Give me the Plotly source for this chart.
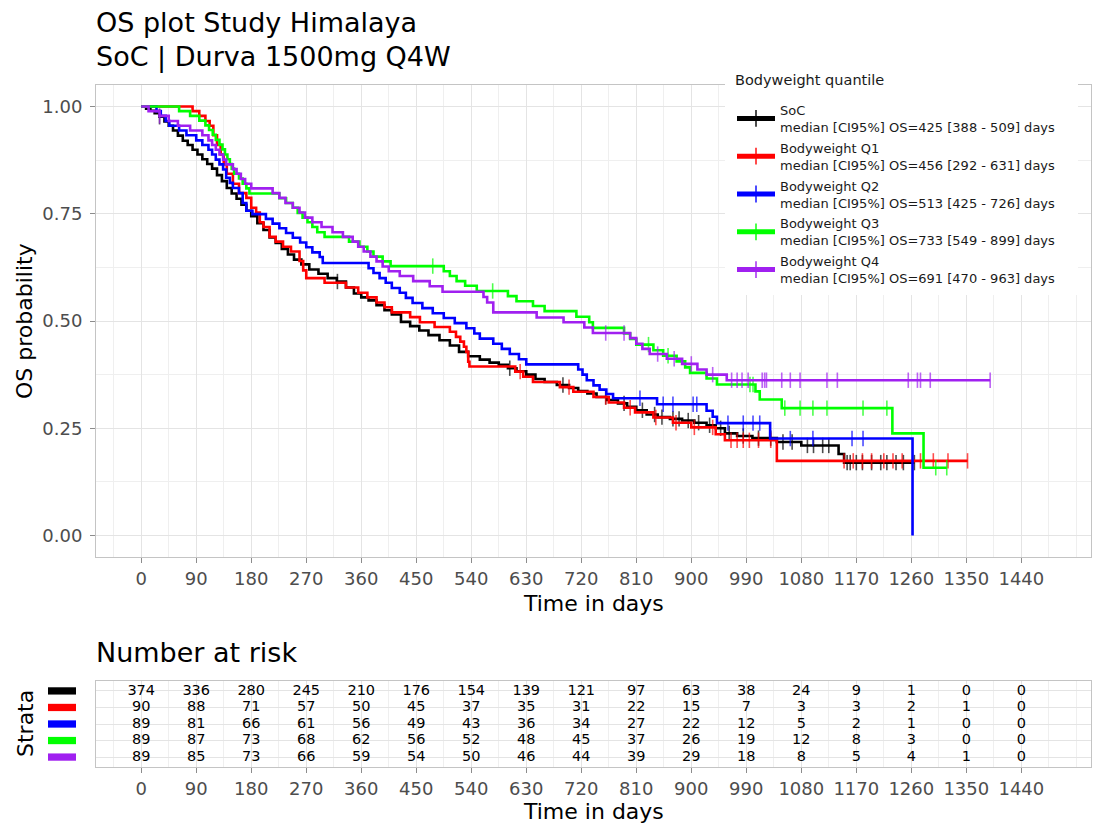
import numpy as np
import plotly.graph_objects as go

W, H = 1096, 829
FONT = "DejaVu Sans"

# ---------------- data ----------------
STRATA = ["SoC", "Bodyweight Q1", "Bodyweight Q2", "Bodyweight Q3", "Bodyweight Q4"]
MEDIAN_OS = ["425 [388 - 509]", "456 [292 - 631]", "513 [425 - 726]",
             "733 [549 - 899]", "691 [470 - 963]"]
COLORS = ["#000000", "#FF0000", "#0000FF", "#00FF00", "#A020F0"]
LEGEND_TITLE = "Bodyweight quantile"

TIME_TICKS = [0, 90, 180, 270, 360, 450, 540, 630, 720, 810, 900, 990,
              1080, 1170, 1260, 1350, 1440]
PROB_TICKS = [0.0, 0.25, 0.5, 0.75, 1.0]
PROB_LABELS = ["0.00", "0.25", "0.50", "0.75", "1.00"]

# Kaplan-Meier steps: event times (days) and survival just after each event
soc_time = [0, 8, 15, 22, 30, 38, 45, 52, 60, 68, 76, 84, 92, 100, 108, 116, 124,
            132, 140, 148, 156, 164, 172, 180, 190, 200, 210, 220, 230, 240, 250,
            262, 275, 290, 305, 320, 335, 348, 360, 372, 385, 398, 410, 425, 440,
            455, 470, 488, 505, 520, 535, 554, 570, 585, 600, 614, 630, 645, 660,
            680, 700, 715, 730, 745, 762, 780, 795, 810, 827, 845, 865, 885, 905,
            925, 940, 955, 975, 1000, 1040, 1080, 1141, 1150]
soc_surv = [1.0, 0.995, 0.99, 0.984, 0.976, 0.965, 0.955, 0.944, 0.932, 0.92, 0.91,
            0.899, 0.888, 0.877, 0.866, 0.855, 0.84, 0.826, 0.81, 0.797, 0.785,
            0.771, 0.757, 0.744, 0.728, 0.712, 0.695, 0.682, 0.668, 0.655, 0.643,
            0.632, 0.62, 0.61, 0.6, 0.592, 0.578, 0.564, 0.555, 0.548, 0.537,
            0.525, 0.515, 0.498, 0.488, 0.478, 0.467, 0.455, 0.443, 0.428, 0.418,
            0.41, 0.403, 0.398, 0.39, 0.383, 0.375, 0.365, 0.358, 0.351, 0.344,
            0.337, 0.331, 0.323, 0.316, 0.308, 0.3, 0.292, 0.282, 0.276, 0.272,
            0.268, 0.263, 0.257, 0.25, 0.238, 0.232, 0.227, 0.218, 0.21, 0.19, 0.17]
soc_censor = [30, 321, 603, 690, 760, 790, 820, 840, 852, 870, 880, 895, 912, 930,
              948, 962, 985, 1010, 1030, 1050, 1065, 1090, 1100, 1115, 1125, 1155,
              1160, 1170, 1180, 1195, 1210, 1220, 1235, 1247, 1265]

q1_time = [0, 84, 95, 105, 112, 118, 124, 130, 135, 140, 150, 160, 172, 180, 188,
           194, 200, 210, 220, 232, 245, 259, 265, 270, 300, 335, 355, 370, 385,
           398, 410, 440, 456, 480, 505, 515, 522, 528, 532, 535, 537, 612, 625,
           641, 685, 707, 740, 765, 790, 808, 838, 870, 900, 940, 955, 1040]
q1_surv = [1.0, 0.989, 0.978, 0.966, 0.955, 0.933, 0.91, 0.888, 0.865, 0.843, 0.82,
           0.798, 0.787, 0.764, 0.753, 0.73, 0.719, 0.696, 0.685, 0.673, 0.662,
           0.64, 0.618, 0.6, 0.589, 0.578, 0.566, 0.555, 0.543, 0.532, 0.52, 0.509,
           0.497, 0.486, 0.475, 0.463, 0.452, 0.44, 0.428, 0.405, 0.394, 0.382,
           0.37, 0.358, 0.346, 0.335, 0.323, 0.31, 0.298, 0.287, 0.275, 0.263,
           0.252, 0.236, 0.222, 0.174]
q1_censor = [620, 700, 760, 800, 842, 875, 905, 935, 965, 975, 985, 995, 1010, 1030,
             1150, 1165, 1180, 1195, 1215, 1230, 1245, 1275, 1296, 1320, 1352]

q2_time = [0, 25, 32, 40, 46, 62, 74, 90, 100, 110, 116, 122, 128, 134, 139, 145,
           150, 160, 166, 172, 182, 204, 215, 226, 237, 248, 260, 270, 280, 292,
           297, 372, 380, 390, 400, 410, 423, 433, 444, 460, 477, 495, 513, 532,
           545, 554, 576, 590, 603, 618, 630, 715, 722, 729, 740, 750, 761, 772,
           844, 925, 935, 942, 1029, 1262]
q2_surv = [1.0, 0.989, 0.978, 0.966, 0.955, 0.944, 0.933, 0.921, 0.91, 0.899, 0.888,
           0.876, 0.865, 0.853, 0.834, 0.822, 0.81, 0.798, 0.775, 0.757, 0.749,
           0.738, 0.727, 0.716, 0.705, 0.694, 0.683, 0.672, 0.66, 0.649, 0.635,
           0.623, 0.612, 0.6, 0.589, 0.577, 0.566, 0.554, 0.542, 0.53, 0.518,
           0.507, 0.495, 0.483, 0.471, 0.459, 0.447, 0.435, 0.423, 0.411, 0.399,
           0.387, 0.375, 0.362, 0.35, 0.34, 0.33, 0.32, 0.306, 0.291, 0.277,
           0.262, 0.226, 0.0]
q2_censor = [816, 854, 870, 903, 909, 960, 985, 1001, 1012, 1062, 1099, 1163, 1181]

q3_time = [0, 62, 80, 95, 105, 111, 117, 122, 128, 133, 137, 141, 145, 148, 152,
           160, 166, 172, 177, 226, 237, 248, 256, 264, 272, 280, 288, 300, 340,
           357, 370, 380, 395, 408, 495, 505, 516, 530, 549, 600, 614, 641, 660,
           712, 733, 739, 790, 800, 810, 838, 854, 876, 890, 898, 925, 942, 1005,
           1012, 1048, 1229, 1280]
q3_surv = [1.0, 0.989, 0.978, 0.967, 0.956, 0.945, 0.934, 0.922, 0.911, 0.9, 0.888,
           0.877, 0.866, 0.855, 0.843, 0.832, 0.82, 0.809, 0.797, 0.786, 0.775,
           0.764, 0.752, 0.741, 0.73, 0.719, 0.707, 0.696, 0.685, 0.673, 0.662,
           0.65, 0.639, 0.628, 0.616, 0.605, 0.593, 0.582, 0.57, 0.558, 0.546,
           0.535, 0.523, 0.51, 0.497, 0.484, 0.471, 0.458, 0.445, 0.432, 0.419,
           0.406, 0.392, 0.379, 0.366, 0.352, 0.336, 0.317, 0.297, 0.238, 0.158]
q3_censor = [477, 575, 830, 862, 996, 1001, 1053, 1078, 1099, 1122, 1181, 1220,
             1300, 1318]

q4_time = [0, 12, 30, 45, 60, 80, 100, 110, 116, 122, 128, 134, 139, 150, 156,
           163, 170, 180, 215, 226, 236, 248, 259, 268, 280, 295, 313, 330, 346,
           355, 364, 375, 385, 395, 405, 423, 445, 472, 493, 560, 566, 576, 647,
           691, 725, 739, 800, 810, 820, 832, 860, 885, 910, 925, 958]
q4_surv = [1.0, 0.989, 0.978, 0.966, 0.955, 0.944, 0.933, 0.921, 0.91, 0.899, 0.888,
           0.876, 0.865, 0.854, 0.843, 0.831, 0.82, 0.809, 0.798, 0.787, 0.775,
           0.764, 0.753, 0.741, 0.73, 0.719, 0.707, 0.696, 0.685, 0.673, 0.662,
           0.65, 0.639, 0.627, 0.616, 0.605, 0.593, 0.581, 0.568, 0.556, 0.543,
           0.52, 0.508, 0.497, 0.485, 0.472, 0.46, 0.447, 0.435, 0.423, 0.412,
           0.4, 0.387, 0.375, 0.362]
q4_censor = [30, 760, 790, 845, 872, 900, 935, 966, 975, 983, 993, 1016, 1020,
             1023, 1048, 1062, 1078, 1122, 1139, 1255, 1270, 1275, 1291, 1389]

# Number at risk at each time tick
risk_soc = [374, 336, 280, 245, 210, 176, 154, 139, 121, 97, 63, 38, 24, 9, 1, 0, 0]
risk_q1 = [90, 88, 71, 57, 50, 45, 37, 35, 31, 22, 15, 7, 3, 3, 2, 1, 0]
risk_q2 = [89, 81, 66, 61, 56, 49, 43, 36, 34, 27, 22, 12, 5, 2, 1, 0, 0]
risk_q3 = [89, 87, 73, 68, 62, 56, 52, 48, 45, 37, 26, 19, 12, 8, 3, 0, 0]
risk_q4 = [89, 85, 73, 66, 59, 54, 50, 46, 44, 39, 29, 18, 8, 5, 4, 1, 0]

CURVES = [(soc_time, soc_surv, soc_censor), (q1_time, q1_surv, q1_censor),
          (q2_time, q2_surv, q2_censor), (q3_time, q3_surv, q3_censor),
          (q4_time, q4_surv, q4_censor)]
RISK = [risk_soc, risk_q1, risk_q2, risk_q3, risk_q4]

# ---------------- layout helpers ----------------
def fx(p):
    return p / W


def fy(p):
    return 1 - p / H


X_DOMAIN = [fx(96), fx(1091)]
MAIN_Y_DOMAIN = [fy(557), fy(85)]
TABLE_Y_DOMAIN = [fy(767), fy(681)]
X_RANGE = [-74, 1554]

fig = go.Figure()

for name, med, color, (t, s, c) in zip(STRATA, MEDIAN_OS, COLORS, CURVES):
    t = np.asarray(t, float)
    s = np.asarray(s, float)
    c = np.asarray(c, float)
    # survival level at each censoring time (last step at or before it)
    c_s = s[np.searchsorted(t, c, side="right") - 1]
    xs = np.concatenate([t, c])
    ys = np.concatenate([s, c_s])
    sizes = np.concatenate([np.zeros(len(t)), np.full(len(c), 11.0)])
    order = np.argsort(xs, kind="stable")
    fig.add_trace(go.Scatter(
        x=xs[order], y=ys[order],
        mode="lines+markers",
        line=dict(color=color, width=2.6, shape="hv"),
        marker=dict(symbol="line-ns-open", size=sizes[order], color=color,
                    line=dict(color=color, width=1.6)),
        name=f"{name}<br>median [CI95%] OS={med} days",
        legendgroup=name,
        hoverinfo="skip",
        xaxis="x", yaxis="y",
    ))

# Risk table numbers
for i, counts in enumerate(RISK):
    fig.add_trace(go.Scatter(
        x=TIME_TICKS, y=[i + 1] * len(TIME_TICKS),
        mode="text", text=[str(v) for v in counts],
        textfont=dict(family=FONT, size=14.5, color="#000000"),
        showlegend=False, hoverinfo="skip", cliponaxis=False,
        xaxis="x2", yaxis="y2",
    ))

minor_x = [v - 45 for v in TIME_TICKS] + [TIME_TICKS[-1] + 45, TIME_TICKS[-1] + 90]
minor_y = [v + 0.125 for v in PROB_TICKS[:-1]]

axis_style = dict(
    showline=True, linecolor="#C4C4C4", linewidth=1, mirror=True,
    showgrid=True, gridcolor="#E4E4E4", gridwidth=1, zeroline=False,
    ticks="outside", ticklen=5, tickcolor="#8C8C8C", tickwidth=1.2,
    tickfont=dict(family=FONT, size=18, color="#4D4D4D"),
)

fig.update_layout(
    width=W, height=H,
    margin=dict(l=0, r=0, t=0, b=0),
    paper_bgcolor="white", plot_bgcolor="white",
    font=dict(family=FONT, color="#000000"),
    showlegend=True,
    xaxis=dict(domain=X_DOMAIN, range=X_RANGE, tickvals=TIME_TICKS,
               ticktext=[str(v) for v in TIME_TICKS], anchor="y",
               minor=dict(tickvals=minor_x, showgrid=True, gridcolor="#EFEFEF",
                          ticks=""),
               **axis_style),
    yaxis=dict(domain=MAIN_Y_DOMAIN, range=[-0.05, 1.05], tickvals=PROB_TICKS,
               ticktext=PROB_LABELS, anchor="x", ticklabelstandoff=4,
               minor=dict(tickvals=minor_y, showgrid=True, gridcolor="#EFEFEF",
                          ticks=""),
               **axis_style),
    xaxis2=dict(domain=X_DOMAIN, range=X_RANGE, tickvals=TIME_TICKS,
                ticktext=[str(v) for v in TIME_TICKS], anchor="y2",
                minor=dict(tickvals=minor_x, showgrid=True, gridcolor="#EFEFEF",
                           ticks=""),
                **axis_style),
    yaxis2=dict(domain=TABLE_Y_DOMAIN, range=[5.6, 0.4], tickvals=[1, 2, 3, 4, 5],
                showticklabels=False, anchor="x2", showline=True,
                linecolor="#C4C4C4", linewidth=1, mirror=True, showgrid=True,
                gridcolor="#E4E4E4", zeroline=False, ticks=""),
    legend=dict(
        x=fx(732), y=fy(95), xanchor="left", yanchor="top",
        bgcolor="rgba(0,0,0,0)", borderwidth=0,
        font=dict(family=FONT, size=13, color="#1A1A1A"),
        tracegroupgap=1, itemsizing="constant", itemwidth=38,
    ),
)

# White box behind the legend, covering the panel grid
fig.add_shape(type="rect", xref="paper", yref="paper", layer="above",
              x0=fx(725), x1=fx(1078), y0=fy(295), y1=fy(68),
              fillcolor="white", line=dict(width=0))

# Colour keys for the risk table rows
for i, color in enumerate(COLORS):
    fig.add_shape(type="rect", xref="paper", yref="y2",
                  x0=fx(48), x1=fx(76), y0=i + 1 - 0.22, y1=i + 1 + 0.22,
                  fillcolor=color, line=dict(width=0))

x_mid = (X_DOMAIN[0] + X_DOMAIN[1]) / 2
texts = [
    dict(text="OS plot Study Himalaya", x=fx(94), y=fy(22), xanchor="left",
         yanchor="middle", size=27, color="#000000"),
    dict(text="SoC | Durva 1500mg Q4W", x=fx(94), y=fy(57), xanchor="left",
         yanchor="middle", size=27, color="#000000"),
    dict(text=LEGEND_TITLE, x=fx(733), y=fy(80), xanchor="left",
         yanchor="middle", size=14.5, color="#1A1A1A"),
    dict(text="Time in days", x=x_mid, y=fy(603), xanchor="center",
         yanchor="middle", size=22, color="#000000"),
    dict(text="Number at risk", x=fx(94), y=fy(652), xanchor="left",
         yanchor="middle", size=27, color="#000000"),
    dict(text="Time in days", x=x_mid, y=fy(811), xanchor="center",
         yanchor="middle", size=22, color="#000000"),
]
for a in texts:
    fig.add_annotation(text=a["text"], xref="paper", yref="paper", x=a["x"],
                       y=a["y"], xanchor=a["xanchor"], yanchor=a["yanchor"],
                       showarrow=False,
                       font=dict(family=FONT, size=a["size"], color=a["color"]))

for label, yc in [("OS probability", (557 + 85) / 2), ("Strata", (767 + 681) / 2)]:
    fig.add_annotation(text=label, xref="paper", yref="paper", x=fx(25),
                       y=fy(yc), xanchor="center", yanchor="middle",
                       textangle=-90, showarrow=False,
                       font=dict(family=FONT, size=22, color="#000000"))

fig.write_html("out.html")
